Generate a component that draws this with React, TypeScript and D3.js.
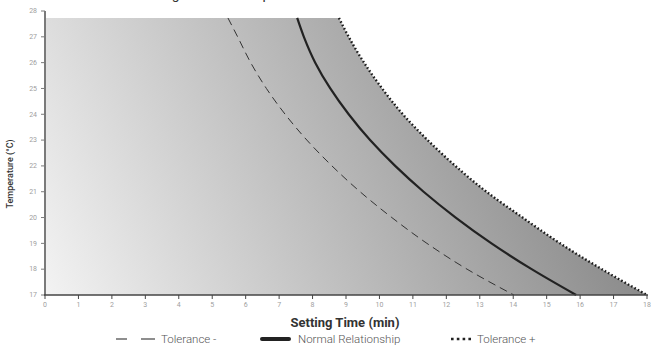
import React, { useEffect } from 'react';
import * as d3 from 'd3';

// temperatures (°C) where the curves were read
const temps = [17, 18, 19, 20, 21, 22, 23, 24, 25, 26, 27, 27.73];
// setting time (min) for each temperature
const normalTimes = [15.88, 14.55, 13.35, 12.28, 11.32, 10.47, 9.72, 9.08, 8.53, 8.08, 7.74, 7.54];
const tolMinusTimes = [14.02, 12.62, 11.42, 10.37, 9.42, 8.58, 7.83, 7.18, 6.62, 6.15, 5.76, 5.47];
const tolPlusTimes = [18.0, 16.65, 15.4, 14.28, 13.2, 12.27, 11.44, 10.7, 10.08, 9.54, 9.08, 8.79];

const xTicks = d3.range(0, 19);
const yTicks = d3.range(17, 29);
const legendLabels = ['Tolerance -', 'Normal Relationship', 'Tolerance +'];

const W = 651;
const H = 349;
const FONT = 'Roboto, "DejaVu Sans", sans-serif';

export default function App() {
  useEffect(() => {
    document.body.style.margin = '0';
  }, []);

  const x = d3.scaleLinear().domain([0, 18]).range([45, 647]);
  const y = d3.scaleLinear().domain([17, 28]).range([295, 11]);

  // points ordered from top (warm) to bottom (cool) so y grows in pixels
  const toPts = (times: number[]) =>
    temps.map((t, i) => [times[i], t] as [number, number]).sort((a, b) => b[1] - a[1]);

  const line = d3
    .line<[number, number]>()
    .x(d => x(d[0]))
    .y(d => y(d[1]))
    .curve(d3.curveMonotoneY);

  const tTop = d3.max(temps)!;
  // zone filled up to the "Tolerance +" curve
  const fillPath =
    `M${x(0)},${y(tTop)}` +
    line(toPts(tolPlusTimes))!.replace(/^M/, 'L') +
    `L${x(0)},${y(17)}Z`;

  const legendY = 343;
  const legendItems = [
    { sx: 116, tx: 161 },
    { sx: 262, tx: 298 },
    { sx: 451, tx: 477 },
  ];

  return (
    <svg width={W} height={H} style={{ display: 'block', fontFamily: FONT }}>
      <defs>
        <linearGradient id="zone" gradientUnits="userSpaceOnUse" x1={45} y1={295} x2={651} y2={23}>
          <stop offset="0" stopColor="#f3f3f3" />
          <stop offset="1" stopColor="#757575" />
        </linearGradient>
      </defs>

      {/* title, mostly above the visible area */}
      <text x={225} y={-1} textAnchor="middle" fontSize={14} fill="#333">
        Setting Time vs Temperature
      </text>

      <path d={fillPath} fill="url(#zone)" />

      <path d={line(toPts(tolMinusTimes))!} fill="none" stroke="#333" strokeWidth={1} strokeDasharray="8,5" />
      <path d={line(toPts(normalTimes))!} fill="none" stroke="#222" strokeWidth={2.2} />
      <path d={line(toPts(tolPlusTimes))!} fill="none" stroke="#1a1a1a" strokeWidth={2.4} strokeDasharray="1.6,2.2" />

      {/* y axis */}
      <line x1={x(0)} x2={x(0)} y1={y(28)} y2={y(17)} stroke="#7a7a7a" strokeWidth={2} />
      {yTicks.map(t => (
        <g key={t} transform={`translate(${x(0)},${y(t)})`}>
          <line x1={-4} x2={0} stroke="#7a7a7a" strokeWidth={1} />
          <text x={-8} dy="0.32em" textAnchor="end" fontSize={7} fill="#a0a0a0">
            {t}
          </text>
        </g>
      ))}

      {/* x axis */}
      <line x1={x(0) - 1} x2={x(18) + 1} y1={y(17)} y2={y(17)} stroke="#444" strokeWidth={1.5} />
      {xTicks.map(t => (
        <g key={t} transform={`translate(${x(t)},${y(17)})`}>
          <line y1={0} y2={4} stroke="#444" strokeWidth={1} />
          <text y={12} textAnchor="middle" fontSize={7} fill="#a0a0a0">
            {t}
          </text>
        </g>
      ))}

      <text
        transform={`translate(13,174) rotate(-90)`}
        textAnchor="middle"
        fontSize={9}
        fontWeight={500}
        fill="#333"
      >
        Temperature (°C)
      </text>
      <text x={345} y={327} textAnchor="middle" fontSize={13} fontWeight={700} fill="#333">
        Setting Time (min)
      </text>

      {/* legend */}
      <g>
        <line x1={legendItems[0].sx} x2={legendItems[0].sx + 11} y1={legendY - 4} y2={legendY - 4} stroke="#444" strokeWidth={1.2} />
        <line x1={legendItems[0].sx + 25} x2={legendItems[0].sx + 39} y1={legendY - 4} y2={legendY - 4} stroke="#444" strokeWidth={1.2} />
        <line x1={legendItems[1].sx} x2={legendItems[1].sx + 27} y1={legendY - 4} y2={legendY - 4} stroke="#222" strokeWidth={4} strokeLinecap="round" />
        <line x1={legendItems[2].sx} x2={legendItems[2].sx + 22} y1={legendY - 4} y2={legendY - 4} stroke="#222" strokeWidth={2.6} strokeDasharray="2.6,3.2" />
        {legendLabels.map((l, i) => (
          <text key={l} x={legendItems[i].tx} y={legendY} fontSize={11.5} fontWeight={300} fill="#555">
            {l}
          </text>
        ))}
      </g>
    </svg>
  );
}
